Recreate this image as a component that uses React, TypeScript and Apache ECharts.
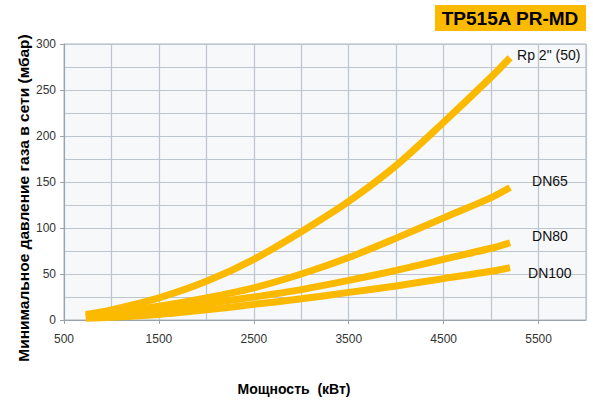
import React, { useEffect, useRef } from "react";
import * as echarts from "echarts";

const power = [730, 1000, 1500, 2000, 2500, 3000, 3500, 4000, 4500, 5000, 5200];
const rp50 = [6, 11, 24, 42, 66, 96, 129, 168, 215, 264, 285];
const dn65 = [4, 8, 15, 24, 35, 50, 68, 89, 111, 133, 144];
const dn80 = [3, 5, 11, 18, 25, 33, 43, 54, 66, 78, 84];
const dn100 = [2, 3, 6, 11, 17, 23, 30, 37, 45, 53, 57];
const seriesNames = ['Rp 2" (50)', "DN65", "DN80", "DN100"];
const xTickLabels = [500, 1500, 2500, 3500, 4500, 5500];
const yTickLabels = [0, 50, 100, 150, 200, 250, 300];
const title = "TP515A PR-MD";
const xName = "Мощность  (кВт)";
const yName = "Минимальное давление газа в сети (мбар)";

const labelOffsets: number[][] = [
  [-1, -3],
  [14, -7],
  [14, -7],
  [10, 5],
];

export default function App() {
  const ref = useRef<HTMLDivElement>(null);
  useEffect(() => {
    if (!ref.current) return;
    const chart = echarts.init(ref.current, null, { renderer: "svg" });
    const values = [rp50, dn65, dn80, dn100];
    const font = "'Liberation Sans', Arial, sans-serif";
    const gridLine = { show: true, lineStyle: { color: "#BDC6CE", width: 1.2 } };
    chart.setOption({
      animation: false,
      backgroundColor: "#ffffff",
      grid: {
        left: 64,
        right: 7,
        top: 44,
        bottom: 81,
        show: true,
        backgroundColor: "#F6F8FA",
        borderColor: "#AEB6BE",
        borderWidth: 1,
      },
      xAxis: [
        {
          type: "value",
          min: 500,
          max: 6000,
          interval: 500,
          axisLine: { show: false },
          axisTick: { show: false },
          axisLabel: { show: false },
          splitLine: gridLine,
        },
        {
          type: "value",
          min: 500,
          max: 6000,
          interval: 500,
          position: "bottom",
          axisLine: { show: true, onZero: false, lineStyle: { color: "#9AA3AB", width: 1 } },
          axisTick: {
            show: true,
            length: 4,
            customValues: xTickLabels,
            lineStyle: { color: "#9AA3AB" },
          },
          axisLabel: {
            customValues: xTickLabels,
            formatter: (v: number) => String(v),
            margin: 13,
            fontSize: 12,
            color: "#333",
            fontFamily: font,
          },
          splitLine: { show: false },
        },
      ],
      yAxis: [
        {
          type: "value",
          min: 0,
          max: 300,
          interval: 25,
          axisLine: { show: false },
          axisTick: { show: false },
          axisLabel: { show: false },
          splitLine: gridLine,
        },
        {
          type: "value",
          min: 0,
          max: 300,
          interval: 25,
          position: "left",
          axisLine: { show: true, onZero: false, lineStyle: { color: "#9AA3AB", width: 1 } },
          axisTick: {
            show: true,
            length: 4,
            customValues: yTickLabels,
            lineStyle: { color: "#9AA3AB" },
          },
          axisLabel: {
            customValues: yTickLabels,
            formatter: (v: number) => String(v),
            margin: 8,
            fontSize: 12,
            color: "#333",
            fontFamily: font,
          },
          splitLine: { show: false },
        },
      ],
      graphic: [
        {
          type: "rect",
          shape: { x: 435, y: 5, width: 151, height: 26 },
          style: { fill: "#FBB900" },
        },
        {
          type: "text",
          x: 510,
          y: 18,
          style: {
            text: title,
            fontSize: 19,
            fontWeight: "bold",
            fontFamily: font,
            fill: "#000",
            align: "center",
            verticalAlign: "middle",
          },
        },
        {
          type: "text",
          x: 294,
          y: 389,
          style: {
            text: xName,
            fontSize: 14,
            fontWeight: "bold",
            fontFamily: font,
            fill: "#000",
            align: "center",
            verticalAlign: "middle",
          },
        },
        {
          type: "text",
          x: 23,
          y: 198,
          rotation: Math.PI / 2,
          style: {
            text: yName,
            fontSize: 15.5,
            fontWeight: "bold",
            fontFamily: font,
            fill: "#000",
            align: "center",
            verticalAlign: "middle",
          },
        },
      ],
      series: values.map((vals, i) => ({
        type: "line",
        name: seriesNames[i],
        xAxisIndex: 1,
        yAxisIndex: 1,
        data: power.map((p, j) => [p, vals[j]]),
        smooth: 0.3,
        showSymbol: false,
        symbol: "none",
        lineStyle: { color: "#FBB900", width: 7, cap: "butt" },
        endLabel: {
          show: true,
          formatter: seriesNames[i],
          offset: labelOffsets[i],
          fontSize: 14,
          color: "#111",
          fontFamily: font,
        },
        z: 3,
      })),
    });
    return () => chart.dispose();
  }, []);
  return (
    <div
      ref={ref}
      style={{ position: "fixed", left: 0, top: 0, width: 593, height: 401 }}
    />
  );
}
